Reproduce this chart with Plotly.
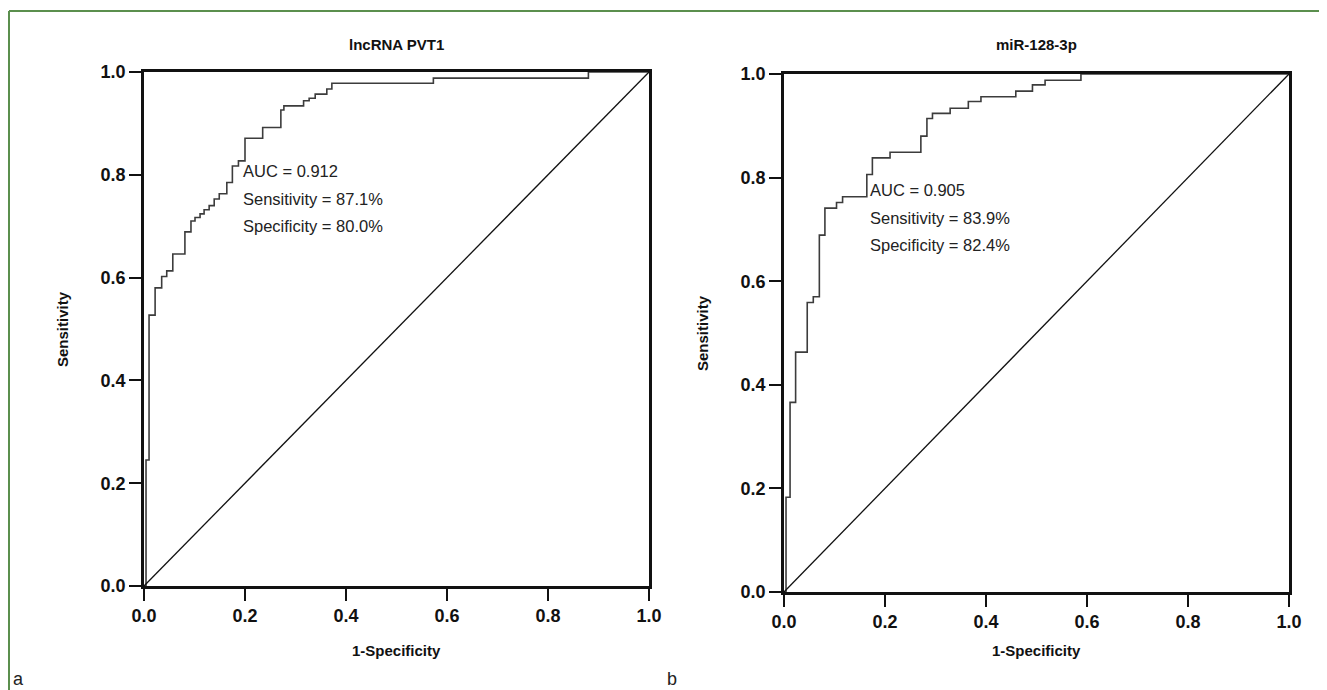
import plotly.graph_objects as go

W, H = 1327, 690
OFF = 8  # page body margin in the browser

# ---- data ----
pvt1_fpr = [0.0, 0.004, 0.010, 0.022, 0.035, 0.045, 0.057, 0.081, 0.093, 0.101, 0.111, 0.119,
            0.129, 0.139, 0.149, 0.164, 0.175, 0.187, 0.200, 0.235, 0.271, 0.277, 0.316, 0.327,
            0.339, 0.362, 0.372, 0.573, 0.880, 1.0]
pvt1_tpr = [0.0, 0.245, 0.527, 0.580, 0.602, 0.613, 0.646, 0.689, 0.710, 0.717, 0.724, 0.732,
            0.740, 0.753, 0.763, 0.785, 0.817, 0.827, 0.871, 0.892, 0.926, 0.934, 0.944, 0.949,
            0.957, 0.967, 0.978, 0.988, 1.0, 1.0]

mir_fpr = [0.0, 0.004, 0.012, 0.023, 0.046, 0.058, 0.070, 0.081, 0.104, 0.116, 0.164, 0.175,
           0.210, 0.271, 0.283, 0.294, 0.329, 0.365, 0.390, 0.459, 0.492, 0.517, 0.588, 1.0]
mir_tpr = [0.0, 0.183, 0.366, 0.463, 0.559, 0.570, 0.689, 0.741, 0.752, 0.763, 0.806, 0.838,
           0.849, 0.880, 0.914, 0.924, 0.934, 0.947, 0.956, 0.967, 0.979, 0.988, 1.0, 1.0]

diag = [0.0, 1.0]

titles = ["lncRNA PVT1", "miR-128-3p"]
stats_pvt1 = ["AUC = 0.912", "Sensitivity = 87.1%", "Specificity = 80.0%"]
stats_mir = ["AUC = 0.905", "Sensitivity = 83.9%", "Specificity = 82.4%"]
panel_labels = ["a", "b"]
tick_vals = [0.0, 0.2, 0.4, 0.6, 0.8, 1.0]
x_title = "1-Specificity"
y_title = "Sensitivity"

# ---- layout helpers (screen pixel -> paper) ----
def px(x):
    return (x - OFF) / W

def py(y):
    return 1 - (y - OFF) / H

panels = [
    dict(x0=144, x1=649, y0=72, y1=586),   # left plot box (screen pixels)
    dict(x0=784, x1=1289, y0=74, y1=592),  # right plot box
]

fig = go.Figure()

curve_line = dict(color="#3c3c3c", width=1.6, shape="hv")
diag_line = dict(color="#111111", width=1.3)

fig.add_trace(go.Scatter(x=pvt1_fpr, y=pvt1_tpr, mode="lines", line=curve_line,
                         xaxis="x", yaxis="y", showlegend=False))
fig.add_trace(go.Scatter(x=diag, y=diag, mode="lines", line=diag_line,
                         xaxis="x", yaxis="y", showlegend=False))
fig.add_trace(go.Scatter(x=mir_fpr, y=mir_tpr, mode="lines", line=curve_line,
                         xaxis="x2", yaxis="y2", showlegend=False))
fig.add_trace(go.Scatter(x=diag, y=diag, mode="lines", line=diag_line,
                         xaxis="x2", yaxis="y2", showlegend=False))

tick_font = dict(family="Liberation Sans Narrow, Arial Narrow, Liberation Sans, Arial", size=18,
                 color="#111111", weight="bold")

def axis_common():
    return dict(range=[0, 1], tickvals=tick_vals, tickformat=".1f", ticks="outside",
                ticklen=12, tickwidth=1.5, tickcolor="#111", showline=True, linewidth=2.6,
                linecolor="#111", mirror=True, showgrid=False, zeroline=False,
                tickfont=tick_font, fixedrange=True, automargin=False)

layout = dict(
    template="none",
    width=W, height=H,
    margin=dict(l=0, r=0, t=0, b=0, pad=0, autoexpand=False),
    paper_bgcolor="white", plot_bgcolor="white",
    showlegend=False,
)
p0, p1 = panels
layout["xaxis"] = dict(axis_common(), domain=[px(p0["x0"]), px(p0["x1"])], anchor="y")
layout["yaxis"] = dict(axis_common(), domain=[py(p0["y1"]), py(p0["y0"])], anchor="x")
layout["xaxis2"] = dict(axis_common(), domain=[px(p1["x0"]), px(p1["x1"])], anchor="y2")
layout["yaxis2"] = dict(axis_common(), domain=[py(p1["y1"]), py(p1["y0"])], anchor="x2")
fig.update_layout(**layout)

annotations = []
title_font = dict(family="Liberation Sans, Arial", size=15, color="#111", weight="bold")
stat_font = dict(family="Liberation Sans, Arial", size=16.5, color="#222")

for i, p in enumerate(panels):
    cx = (p["x0"] + p["x1"]) / 2
    annotations.append(dict(text=titles[i], x=px(cx), y=py(45), xref="paper", yref="paper",
                            showarrow=False, font=title_font, xanchor="center", yanchor="middle"))
    annotations.append(dict(text=x_title, x=px(cx), y=py(650), xref="paper", yref="paper",
                            showarrow=False, font=title_font, xanchor="center", yanchor="middle"))
    cy = (p["y0"] + p["y1"]) / 2
    annotations.append(dict(text=y_title, x=px(p["x0"] - 82), y=py(cy), xref="paper", yref="paper",
                            showarrow=False, font=title_font, textangle=-90,
                            xanchor="center", yanchor="middle"))

# stats text
stat_pos = [(241, 171), (868, 190)]
for i, (lines, (sx, sy)) in enumerate(zip([stats_pvt1, stats_mir], stat_pos)):
    for j, t in enumerate(lines):
        annotations.append(dict(text=t, x=px(sx), y=py(sy + 27.5 * j), xref="paper", yref="paper",
                                showarrow=False, font=stat_font, xanchor="left", yanchor="middle"))

# panel letters
for lab, lx in zip(panel_labels, [11, 665]):
    annotations.append(dict(text=lab, x=px(lx), y=py(679), xref="paper", yref="paper",
                            showarrow=False, font=dict(family="Liberation Sans, Arial", size=18, color="#222"),
                            xanchor="left", yanchor="middle"))

fig.update_layout(annotations=annotations)

# green frame (top and left edges)
green = "#5b8f4e"
fig.add_shape(type="line", xref="paper", yref="paper", x0=px(9), x1=1.0, y0=py(11), y1=py(11),
              line=dict(color=green, width=2))
fig.add_shape(type="line", xref="paper", yref="paper", x0=px(9), x1=px(9), y0=py(11), y1=0.0,
              line=dict(color=green, width=2))

fig.write_html("out.html")
